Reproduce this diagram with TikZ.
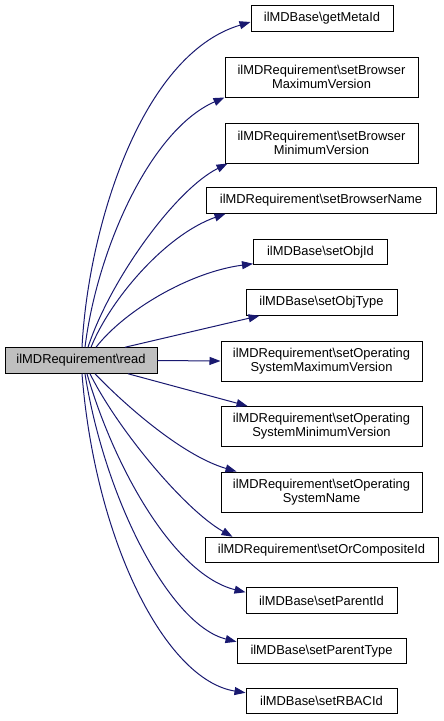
\documentclass[tikz,border=0pt]{standalone}
\usepackage{fontspec}
\setmainfont{Liberation Sans}
\usetikzlibrary{arrows.meta}
\definecolor{edgeblue}{RGB}{25,25,112}
\definecolor{maingray}{RGB}{191,191,191}
\tikzset{
  fn/.style={draw=black, line width=1pt, fill=white, inner sep=0pt, align=center,
    font=\fontsize{12.9}{14.3}\selectfont, anchor=center},
  one/.style={minimum height=25.5pt},
  two/.style={minimum height=40pt},
  call/.style={draw=edgeblue, line width=1pt, -{Triangle[length=11pt,width=8pt]}, fill=none},
}
\begin{document}
\begin{tikzpicture}[x=1pt,y=-1pt]
\useasboundingbox (0,0) rectangle (444,721);
\node[fn, one, fill=maingray, minimum width=152pt] (main) at (81,360.5) {ilMDRequirement\textbackslash read};
\node[fn, one, minimum width=142pt] (t1) at (322,18.5) {ilMDBase\textbackslash getMetaId};
\node[fn, two, minimum width=193pt] (t2) at (321.5,77) {ilMDRequirement\textbackslash setBrowser\\MaximumVersion};
\node[fn, two, minimum width=193pt] (t3) at (321.5,143) {ilMDRequirement\textbackslash setBrowser\\MinimumVersion};
\node[fn, one, minimum width=230pt] (t4) at (321,200.5) {ilMDRequirement\textbackslash setBrowserName};
\node[fn, one, minimum width=134pt] (t5) at (320.5,252) {ilMDBase\textbackslash setObjId};
\node[fn, one, minimum width=151pt] (t6) at (321.5,302.5) {ilMDBase\textbackslash setObjType};
\node[fn, two, minimum width=201pt] (t7) at (321.5,361) {ilMDRequirement\textbackslash setOperating\\SystemMaximumVersion};
\node[fn, two, minimum width=201pt] (t8) at (321.5,426.5) {ilMDRequirement\textbackslash setOperating\\SystemMinimumVersion};
\node[fn, two, minimum width=201pt] (t9) at (321.5,492) {ilMDRequirement\textbackslash setOperating\\SystemName};
\node[fn, one, minimum width=233pt] (t10) at (321.5,550) {ilMDRequirement\textbackslash setOrCompositeId};
\node[fn, one, minimum width=151pt] (t11) at (321.5,600.5) {ilMDBase\textbackslash setParentId};
\node[fn, one, minimum width=169pt] (t12) at (321.5,651) {ilMDBase\textbackslash setParentType};
\node[fn, one, minimum width=151pt] (t13) at (321.5,701) {ilMDBase\textbackslash setRBACId};

\draw[call] ([xshift=1pt]main.north) .. controls (88,230) and (140,55) .. ([yshift=-3.5pt]t1.west);
\draw[call] ([xshift=4pt]main.north) .. controls (97,250) and (150,130) .. (t2.south west);
\draw[call] ([xshift=7pt]main.north) .. controls (110,280) and (175,190) .. ([xshift=3pt]t3.south west);
\draw[call] ([xshift=10pt]main.north) .. controls (110,300) and (165,235) .. ([xshift=20pt]t4.south west);
\draw[call] ([xshift=15pt]main.north) .. controls (125,310) and (190,272) .. ([yshift=1.5pt]t5.south west);
\draw[call] ([xshift=44pt]main.north) -- ([xshift=14pt]t6.south west);
\draw[call] (main.east) -- (t7.west);
\draw[call] ([xshift=47pt]main.south) -- ([xshift=27pt]t8.north west);
\draw[call] ([xshift=14pt]main.south) .. controls (120,400) and (180,455) .. ([xshift=16pt]t9.north west);
\draw[call] ([xshift=9pt]main.south) .. controls (118,430) and (185,510) .. ([xshift=28pt]t10.north west);
\draw[call] ([xshift=6pt]main.south) .. controls (115,470) and (175,575) .. ([yshift=-5pt]t11.north west);
\draw[call] ([xshift=4pt]main.south) .. controls (105,500) and (170,625) .. ([yshift=-4pt]t12.north west);
\draw[call] ([xshift=1pt]main.south) .. controls (95,540) and (165,680) .. ([yshift=-5pt]t13.north west);
\end{tikzpicture}
\end{document}
